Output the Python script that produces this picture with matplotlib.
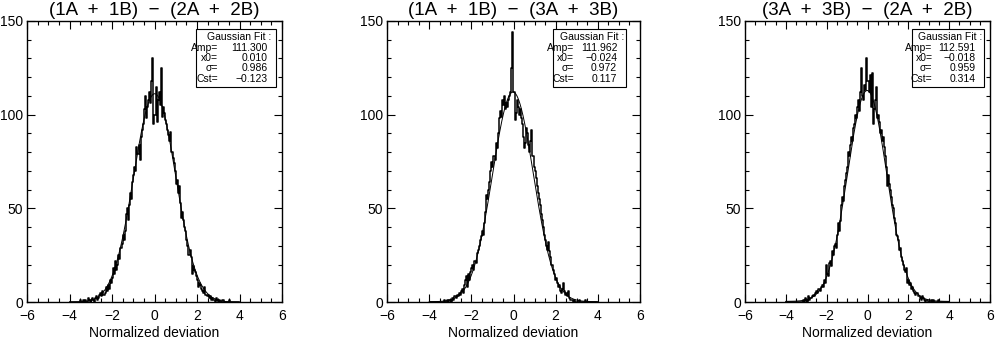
''' Histograms of normalized deviations with Gaussian fits (three pair differences). '''
import matplotlib
matplotlib.use('Agg')
import matplotlib.pyplot as plt
import numpy as np
from matplotlib.patches import Rectangle
from matplotlib.ticker import MultipleLocator

plt.rcParams['font.family'] = ['Liberation Sans', 'DejaVu Sans']

# bins of 0.05 from -4 to 4, one row per unit of x
bin_lo, bin_hi, bin_w = -4.0, 4.0, 0.05

counts_1 = [0, 0, 0, 0, 0, 0, 0, 0, 0, 0, 1, 0, 0, 1, 0, 1, 0, 2, 1, 0,
            1, 2, 1, 0, 2, 3, 1, 2, 4, 5, 3, 6, 4, 5, 8, 6, 9, 7, 12, 10,
            13, 18, 15, 22, 17, 20, 25, 23, 29, 31, 36, 33, 38, 47, 50, 44, 52, 58, 55, 64,
            68, 72, 70, 83, 79, 84, 76, 88, 92, 95, 103, 110, 98, 104, 108, 112, 106, 118, 130, 95,
            100, 115, 96, 108, 112, 105, 125, 99, 104, 101, 97, 95, 92, 89, 86, 91, 80, 77, 74, 70,
            63, 65, 58, 62, 53, 45, 48, 44, 40, 38, 33, 30, 25, 28, 24, 15, 19, 17, 16, 14,
            12, 8, 10, 9, 7, 6, 5, 8, 4, 3, 4, 2, 3, 1, 2, 1, 1, 0, 2, 1,
            0, 1, 0, 0, 1, 0, 0, 0, 0, 0, 1, 0, 0, 0, 0, 0, 0, 0, 0, 0]

counts_2 = [0, 0, 0, 0, 0, 0, 0, 0, 0, 0, 0, 0, 0, 0, 1, 0, 0, 1, 0, 1,
            1, 0, 2, 1, 3, 2, 4, 3, 5, 4, 6, 7, 5, 9, 12, 14, 8, 15, 12, 16,
            18, 20, 17, 22, 21, 26, 28, 30, 33, 35, 38, 36, 42, 48, 57, 55, 60, 64, 70, 75,
            72, 78, 76, 85, 82, 90, 98, 102, 99, 108, 105, 110, 103, 106, 104, 108, 110, 112, 125, 144,
            112, 97, 101, 108, 104, 100, 103, 98, 95, 88, 82, 85, 93, 90, 84, 80, 86, 92, 78, 72,
            70, 66, 62, 58, 55, 52, 47, 44, 40, 36, 33, 30, 28, 32, 27, 24, 20, 17, 15, 12,
            13, 10, 8, 9, 6, 5, 7, 10, 6, 4, 5, 3, 6, 2, 1, 1, 0, 1, 0, 0,
            0, 0, 1, 0, 0, 0, 0, 0, 1, 0, 0, 0, 0, 0, 0, 0, 0, 0, 0, 0]

counts_3 = [0, 0, 0, 0, 0, 0, 0, 0, 0, 0, 0, 0, 0, 0, 0, 0, 0, 1, 0, 2,
            1, 0, 3, 1, 2, 2, 3, 4, 3, 5, 6, 5, 7, 6, 8, 9, 8, 12, 10, 20,
            15, 14, 21, 22, 19, 27, 25, 30, 31, 29, 36, 42, 38, 43, 52, 56, 54, 62, 65, 69,
            72, 80, 78, 84, 88, 86, 93, 95, 100, 98, 104, 108, 102, 112, 125, 110, 108, 116, 113, 130,
            118, 112, 121, 104, 122, 95, 103, 108, 115, 98, 100, 96, 90, 92, 86, 88, 83, 78, 72, 62,
            68, 63, 60, 56, 52, 50, 45, 42, 36, 35, 33, 28, 29, 24, 22, 20, 17, 16, 18, 10,
            12, 9, 10, 7, 8, 6, 5, 4, 5, 3, 3, 2, 1, 3, 2, 1, 0, 1, 1, 0,
            0, 0, 1, 0, 1, 0, 0, 0, 0, 1, 0, 0, 0, 0, 0, 0, 0, 0, 0, 0]

titles = ['(1A  +  1B)  \u2212  (2A  +  2B)',
          '(1A  +  1B)  \u2212  (3A  +  3B)',
          '(3A  +  3B)  \u2212  (2A  +  2B)']

# Gaussian fit parameters printed in each panel
amp = [111.300, 111.962, 112.591]
x0 = [0.010, -0.024, -0.018]
sigma = [0.986, 0.972, 0.959]
cst = [-0.123, 0.117, 0.314]

all_counts = [counts_1, counts_2, counts_3]

fig = plt.figure(figsize=(10.02, 3.38), dpi=100)
W, H = 1002., 338.
# axes boxes in pixels: left, right, top, bottom
boxes = [(27, 282, 21, 302), (387, 640, 21, 302), (745, 990, 21, 302)]
# fit-label box in axes fraction: x0, x1
fitbox = [(0.663, 0.978), (0.655, 0.945), (0.68, 0.975)]

centers = np.arange(bin_lo + bin_w / 2, bin_hi, bin_w)

for i in range(3):
    l, r, t, b = boxes[i]
    ax = fig.add_axes([l / W, 1 - b / H, (r - l) / W, (b - t) / H])
    c = np.array(all_counts[i])
    ax.step(centers, c, where='mid', color='black', lw=1.1)
    xx = np.linspace(-4, 4, 400)
    fit = amp[i] * np.exp(-(xx - x0[i])**2 / (2 * sigma[i]**2)) + cst[i]
    ax.plot(xx, fit, color='black', lw=0.7)

    ax.set_xlim(-6, 6)
    ax.set_ylim(0, 150)
    ax.xaxis.set_major_locator(MultipleLocator(2))
    ax.xaxis.set_minor_locator(MultipleLocator(0.5))
    ax.yaxis.set_major_locator(MultipleLocator(50))
    ax.yaxis.set_minor_locator(MultipleLocator(10))
    ax.tick_params(axis='both', which='both', direction='in', top=True, right=True,
                   labelsize=10, width=0.8)
    ax.tick_params(axis='x', which='major', length=6, pad=5)
    ax.tick_params(axis='y', which='major', length=6, pad=3)
    ax.tick_params(axis='both', which='minor', length=3)
    for s in ax.spines.values():
        s.set_linewidth(1.0)
    ax.set_xlabel('Normalized deviation', fontsize=10, labelpad=2)
    ax.set_title(titles[i], fontsize=13.5, pad=4)

    bx0, bx1 = fitbox[i]
    by0, by1 = 0.765, 0.972
    ax.add_patch(Rectangle((bx0, by0), bx1 - bx0, by1 - by0, transform=ax.transAxes,
                           fill=False, lw=0.8, color='black'))
    lines = [('Amp=', '%.3f' % amp[i]), ('x0=', '%.3f' % x0[i]),
             ('\u03c3=', '%.3f' % sigma[i]), ('Cst=', '%.3f' % cst[i])]
    dy = (by1 - by0) / 5.6
    ax.text((bx0 + bx1) / 2 + 0.01, by1 - 0.8 * dy, 'Gaussian Fit :', transform=ax.transAxes,
            ha='center', va='center', fontsize=7.5)
    for k, (lab, val) in enumerate(lines):
        yy = by1 - (1.8 + k) * dy
        ax.text(bx0 + 0.085, yy, lab, transform=ax.transAxes, ha='right', va='center', fontsize=7.5)
        ax.text(bx1 - 0.035, yy, val.replace('-', '\u2212'), transform=ax.transAxes,
                ha='right', va='center', fontsize=7.5)

plt.savefig('out.png', dpi=100)
